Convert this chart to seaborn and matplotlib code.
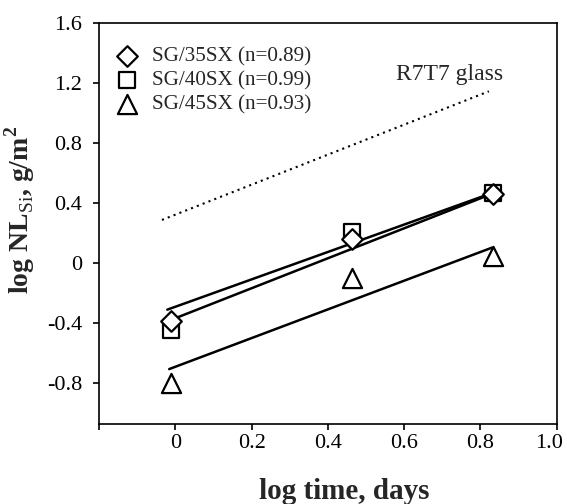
import pandas as pd
import matplotlib
matplotlib.use('Agg')
import matplotlib.pyplot as plt
import matplotlib.transforms as mtransforms
import seaborn as sns

# Données
log_time = [-0.01, 0.463, 0.832]
sg35 = [-0.387, 0.161, 0.463]
sg40 = [-0.443, 0.206, 0.468]
sg45 = [-0.80, -0.10, 0.05]

labels = ['SG/35SX (n=0.89)', 'SG/40SX (n=0.99)', 'SG/45SX (n=0.93)']

# Droites d'ajustement (extrémités)
fit_x35 = [-0.01, 0.832]
fit_y35 = [-0.376, 0.465]
fit_x40 = [-0.021, 0.832]
fit_y40 = [-0.309, 0.47]
fit_x45 = [-0.016, 0.831]
fit_y45 = [-0.705, 0.105]

# Verre R7T7 (pointillés)
r7t7_x = [-0.035, 0.822]
r7t7_y = [0.289, 1.146]

sns.set_theme(style="ticks")
plt.rcParams['font.family'] = ['Liberation Serif', 'DejaVu Serif']
plt.rcParams['mathtext.fontset'] = 'custom'
plt.rcParams['mathtext.rm'] = 'Liberation Serif'
plt.rcParams['mathtext.bf'] = 'Liberation Serif:bold'

fig = plt.figure(figsize=(5.67, 5.04), dpi=100)
ax = fig.add_axes([0.1746, 0.159, 0.8074, 0.795])

sns.lineplot(x=fit_x35, y=fit_y35, color='black', lw=1.8, ax=ax, zorder=2)
sns.lineplot(x=fit_x40, y=fit_y40, color='black', lw=1.8, ax=ax, zorder=2)
sns.lineplot(x=fit_x45, y=fit_y45, color='black', lw=1.8, ax=ax, zorder=2)
sns.lineplot(x=r7t7_x, y=r7t7_y, color='black', lw=1.5, ax=ax,
             linestyle=(0, (1, 2)), zorder=2)

sns.scatterplot(x=log_time, y=sg40, marker='s', s=130, facecolor='white',
                edgecolor='black', linewidth=1.6, ax=ax, zorder=3, label=labels[1])
sns.scatterplot(x=log_time, y=sg45, marker='^', s=190, facecolor='white',
                edgecolor='black', linewidth=1.6, ax=ax, zorder=3, label=labels[2])
sns.scatterplot(x=log_time, y=sg35, marker='D', s=110, facecolor='white',
                edgecolor='black', linewidth=1.6, ax=ax, zorder=4, label=labels[0])

h, l = ax.get_legend_handles_labels()
order = [l.index(t) for t in labels]
ax.legend([h[i] for i in order], [l[i] for i in order], loc='upper left',
          bbox_to_anchor=(0, 0.985), frameon=False, fontsize=15.2,
          handlelength=1.0, handletextpad=0.68, labelspacing=0.2,
          borderaxespad=0.35, borderpad=0.5)

ax.text(0.579, 1.26, 'R7T7 glass', fontsize=17, va='center', ha='left')

ax.set_xlim(-0.2, 1.0)
ax.set_ylim(-1.07, 1.6)
ax.set_xticks([-0.2, 0, 0.2, 0.4, 0.6, 0.8, 1.0])
ax.set_xticklabels(['', '0', '0.2', '0.4', '0.6', '0.8', '1.0'])
ax.set_yticks([-0.8, -0.4, 0, 0.4, 0.8, 1.2, 1.6])
ax.set_yticklabels(['-0.8', '-0.4', '0', '0.4', '0.8', '1.2', '1.6'])
ax.tick_params(axis='both', direction='out', length=4, width=1.2,
               labelsize=16, colors='black')
ax.tick_params(axis='x', pad=3)
ax.tick_params(axis='y', pad=8)
for sp in ax.spines.values():
    sp.set_visible(True)
    sp.set_linewidth(1.2)
    sp.set_color('black')

# le libellé "1.0" est décalé vers l'intérieur comme sur l'original
lab = ax.get_xticklabels()[-1]
lab.set_transform(lab.get_transform() +
                  mtransforms.ScaledTranslation(-0.075, 0, fig.dpi_scale_trans))

ax.set_xlabel('log time, days', fontsize=21, fontweight='bold')
ax.set_ylabel(r'log NL$_{\mathrm{Si}}$, g/m$^{\mathbf{2}}$', fontsize=20,
              fontweight='bold')
ax.xaxis.set_label_coords(0.535, -0.135)
ax.yaxis.set_label_coords(-0.136, 0.534)

fig.savefig('out.png', dpi=100)
